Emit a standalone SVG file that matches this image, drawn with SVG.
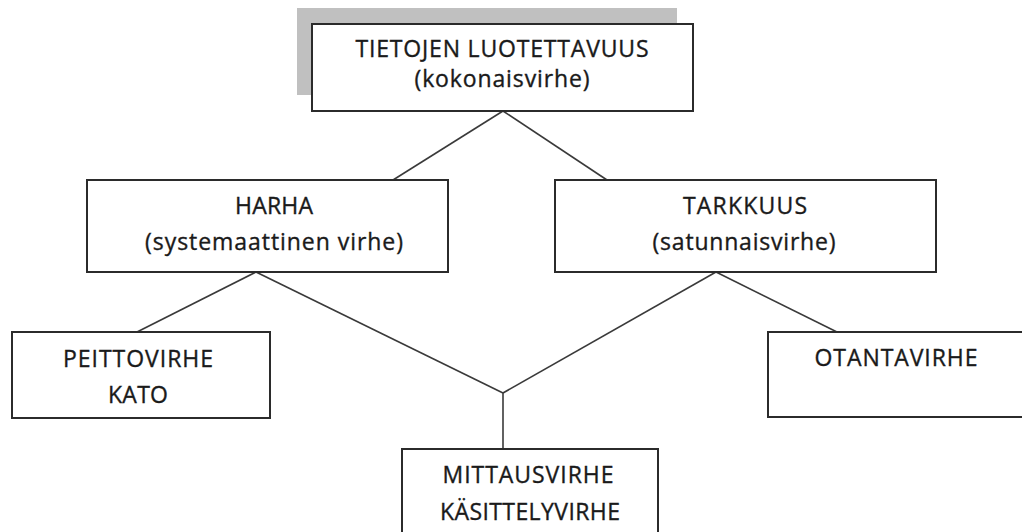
<svg xmlns="http://www.w3.org/2000/svg" width="1022" height="532" viewBox="0 0 1022 532">
<style>
.box{fill:#fff;stroke:#2b2b2b;stroke-width:2}
.shadow{fill:#c0c0c0}
.lbl{font-family:"Open Sans","Noto Sans","Liberation Sans",sans-serif;font-size:23px;fill:#1a1a1a;stroke:#1a1a1a;stroke-width:0.35;text-anchor:middle}
.conn{stroke:#3a3a3a;stroke-width:1.6;fill:none}
</style>
<rect width="1022" height="532" fill="#fff"/>
<g id="connectors">
<line class="conn" x1="503" y1="111" x2="393" y2="180"/>
<line class="conn" x1="503" y1="111" x2="607" y2="180"/>
<line class="conn" x1="256" y1="272" x2="137" y2="332"/>
<line class="conn" x1="256" y1="272" x2="503" y2="393"/>
<line class="conn" x1="716" y1="272" x2="503" y2="393"/>
<line class="conn" x1="716" y1="272" x2="837" y2="332"/>
<line class="conn" x1="503" y1="393" x2="503" y2="449"/>
</g>
<g id="node-top">
<rect class="shadow" x="297" y="8" width="380" height="87"/>
<rect class="box" x="312" y="24" width="381" height="87"/>
<text class="lbl" x="502" y="57" textLength="293" lengthAdjust="spacing">TIETOJEN LUOTETTAVUUS</text>
<text class="lbl" x="502" y="87" textLength="175" lengthAdjust="spacing">(kokonaisvirhe)</text>
</g>
<g id="node-harha">
<rect class="box" x="87" y="180" width="361" height="92"/>
<text class="lbl" x="274" y="214" textLength="78" lengthAdjust="spacing">HARHA</text>
<text class="lbl" x="274" y="250" textLength="258" lengthAdjust="spacing">(systemaattinen virhe)</text>
</g>
<g id="node-tarkkuus">
<rect class="box" x="555" y="180" width="381" height="92"/>
<text class="lbl" x="745" y="214" textLength="124" lengthAdjust="spacing">TARKKUUS</text>
<text class="lbl" x="744" y="250" textLength="183" lengthAdjust="spacing">(satunnaisvirhe)</text>
</g>
<g id="node-peittovirhe">
<rect class="box" x="12" y="332" width="258" height="86"/>
<text class="lbl" x="138" y="367" textLength="150" lengthAdjust="spacing">PEITTOVIRHE</text>
<text class="lbl" x="138" y="403" textLength="60" lengthAdjust="spacing">KATO</text>
</g>
<g id="node-otantavirhe">
<rect class="box" x="768" y="332" width="270" height="85"/>
<text class="lbl" x="896" y="366" textLength="163" lengthAdjust="spacing">OTANTAVIRHE</text>
</g>
<g id="node-mittausvirhe">
<rect class="box" x="402" y="449" width="256" height="100"/>
<text class="lbl" x="528" y="483" textLength="171" lengthAdjust="spacing">MITTAUSVIRHE</text>
<text class="lbl" x="530" y="520" textLength="180" lengthAdjust="spacing">KÄSITTELYVIRHE</text>
</g>
</svg>
